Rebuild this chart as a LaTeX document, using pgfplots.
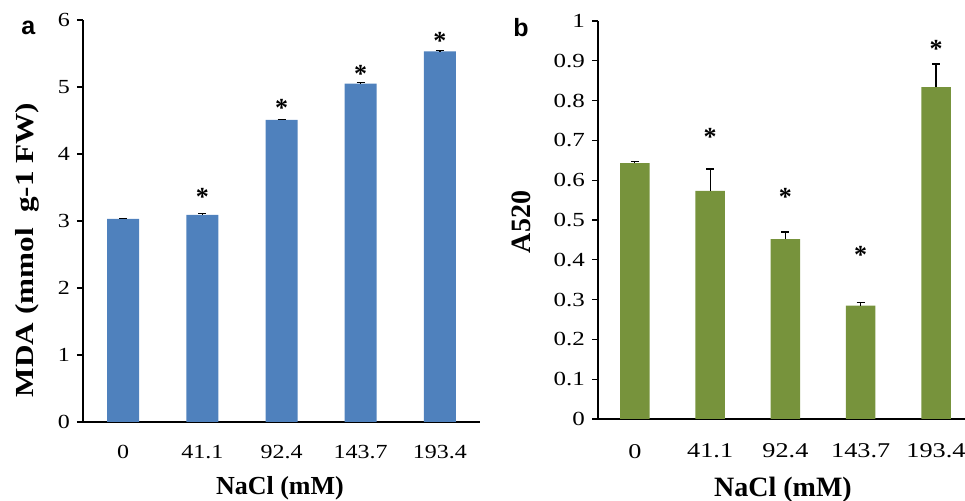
\documentclass[border=0pt]{standalone}
\usepackage{pgfplots}
\pgfplotsset{compat=1.18}
\usepackage{pgfplotstable}
\usepackage{fontspec}
\setmainfont{Liberation Serif}
\newfontfamily\panelfont{Liberation Sans}
\newfontfamily\tickfontA{Liberation Serif}[FakeStretch=1.2]
\newfontfamily\tickfontB{Liberation Serif}[FakeStretch=1.25]
\newfontfamily\labfontA{Liberation Serif}[FakeStretch=1.2]
\definecolor{barblue}{HTML}{4F81BD}
\definecolor{bargreen}{HTML}{77933C}

\pgfplotstableread{
x y e s
0 3.03 0.01 nan
1 3.09 0.02 3.49
2 4.51 0.01 4.81
3 5.05 0.02 5.33
4 5.53 0.01 5.81
}\dataA
\pgfplotstableread{
x y e s
0 0.643 0.004 nan
1 0.573 0.055 0.731
2 0.452 0.018 0.580
3 0.285 0.008 0.435
4 0.834 0.058 0.952
}\dataB

\pgfplotsset{
  common/.style={
    scale only axis, clip=false,
    axis x line*=bottom, axis y line*=left,
    axis line style={black, line width=0.6pt},
    xtick={0,1,2,3,4},
    xticklabels={0,41.1,92.4,143.7,193.4},
    x tick style={draw=none},
    y tick style={black, line width=0.6pt},
    tick align=outside, major tick length=3pt,
    /pgf/number format/assume math mode=true,
    ymin=0,
  },
  errs/.style={error bars/.cd, y dir=plus, y explicit,
    error bar style={black, line width=0.6pt},
    error mark options={rotate=90, black, mark size=2pt, line width=0.6pt}},
  stars/.style={only marks, mark=text, text mark={\fontsize{13}{13}\selectfont\bfseries *},
    text mark style={top}},
}

\begin{document}
\begin{tikzpicture}
\useasboundingbox (0,0) rectangle (482.5pt,250.5pt);
% panel a
\begin{axis}[common,
  at={(41.5pt,39.5pt)}, anchor=south west,
  width=198.5pt, height=201pt,
  xmin=-0.505, xmax=4.505, ymax=6,
  ytick={0,1,2,3,4,5,6},
  xticklabel style={font=\tickfontA\fontsize{10}{12}\selectfont, yshift=-5pt},
  yticklabel style={font=\tickfontA\fontsize{10}{11}\selectfont},
  xlabel={NaCl (mM)},
  ylabel={MDA (mmol\ \ g-1 FW)},
  every axis x label/.style={at={(axis description cs:0.496,-0.164)}, anchor=center, font=\fontsize{13}{15}\selectfont\bfseries},
  every axis y label/.style={at={(axis description cs:-0.139,0.428)}, anchor=center, rotate=90, font=\labfontA\fontsize{13}{15}\selectfont\bfseries},
]
\addplot[ybar, bar width=16pt, fill=barblue, draw=none, errs] table[x=x, y=y, y error=e] {\dataA};
\addplot[stars] table[x=x, y=s] {\dataA};
\end{axis}
% panel b
\begin{axis}[common,
  at={(299pt,41pt)}, anchor=south west,
  width=183.5pt, height=199pt,
  xmin=-0.49, xmax=4.385, ymax=1,
  ytick={0,0.1,0.2,0.3,0.4,0.5,0.6,0.7,0.8,0.9,1},
  xticklabel style={font=\tickfontB\fontsize{10.5}{12}\selectfont, yshift=-6pt},
  yticklabel style={font=\tickfontB\fontsize{10}{12}\selectfont},
  xlabel={NaCl (mM)},
  ylabel={A520},
  every axis x label/.style={at={(axis description cs:0.504,-0.178)}, anchor=center, font=\fontsize{14}{16}\selectfont\bfseries},
  every axis y label/.style={at={(axis description cs:-0.21,0.495)}, anchor=center, rotate=90, font=\fontsize{14}{16}\selectfont\bfseries},
]
\addplot[ybar, bar width=14.75pt, fill=bargreen, draw=none, errs] table[x=x, y=y, y error=e] {\dataB};
\addplot[stars] table[x=x, y=s] {\dataB};
\end{axis}
\node[anchor=base west, inner sep=0pt, font=\panelfont\fontsize{12.5}{14}\selectfont\bfseries] at (10.5pt,233pt) {a};
\node[anchor=base west, inner sep=0pt, font=\panelfont\fontsize{12.5}{14}\selectfont\bfseries] at (256.5pt,232pt) {b};
\end{tikzpicture}
\end{document}
